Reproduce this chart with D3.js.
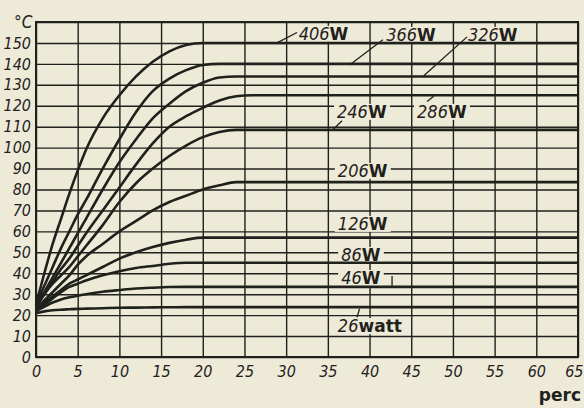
<!DOCTYPE html>
<html>
<head>
<meta charset="utf-8">
<script src="https://cdn.jsdelivr.net/npm/d3@7"></script>
<style>
  body { margin: 0; background: #eeead8; }
  svg { display: block; }
</style>
</head>
<body>
<div id="chart"></div>
<script>
// time in minutes (perc)
const times = [0, 1, 2, 3, 4, 5, 6, 8, 10, 12, 14, 16, 18, 20, 22, 24, 26, 65]

// temperature (°C) for each heating power
const temp406 = [25, 40, 54, 66, 78, 89, 99, 114, 125, 134, 141, 146, 149, 150, 150, 150, 150, 150]
const temp366 = [25, 34, 43, 52, 60, 68, 75, 90, 104, 117, 127, 133, 137, 139.5, 140, 140, 140, 140]
const temp326 = [24, 31, 38, 45, 52, 59, 66, 80, 93, 104, 114, 121, 127, 131, 133.5, 134, 134, 134]
const temp286 = [24, 30, 36, 42, 47, 53, 59, 70, 81, 92, 102, 110, 115, 119, 122.5, 124.5, 125, 125]
const temp246 = [24, 30, 35, 39, 43, 48, 53, 63, 74, 83, 90, 96, 101, 105, 107.5, 108.5, 108.5, 108.5]
const temp206 = [23, 27, 31, 35, 39, 44, 48, 54, 60, 65, 70, 74, 77, 80, 82, 83.5, 83.5, 83.5]
const temp126 = [23, 26, 29, 32, 35, 37, 39, 43, 47, 50, 52.5, 54.5, 56, 57, 57, 57, 57, 57]
const temp86 = [22, 25, 28, 31, 33.5, 35, 36.5, 39, 41, 42.5, 43.5, 44.5, 45, 45, 45, 45, 45, 45]
const temp46 = [22, 24, 26, 27.5, 28.5, 29.3, 30, 31.2, 32, 32.7, 33.1, 33.4, 33.5, 33.5, 33.5, 33.5, 33.5, 33.5]
const temp26 = [21, 21.8, 22.3, 22.6, 22.8, 23, 23.1, 23.3, 23.5, 23.6, 23.7, 23.75, 23.8, 23.8, 23.8, 23.8, 23.8, 23.8]

const seriesValues = [temp406, temp366, temp326, temp286, temp246, temp206, temp126, temp86, temp46, temp26]

// label texts: number part + unit part
const labelNumbers = ['406', '366', '326', '246', '286', '206', '126', '86', '46', '26']
const labelUnits = ['W', 'W', 'W', 'W', 'W', 'W', 'W', 'W', 'W', 'watt']

const xTicks = d3.range(0, 66, 5)
const yTicks = d3.range(0, 161, 10)

const ink = '#1f211c'
const paper = '#eeead8'

const margin = { top: 22, right: 6, bottom: 51, left: 36 }
const width = 584 - margin.left - margin.right
const height = 408 - margin.top - margin.bottom

const xScale = d3.scaleLinear().domain([0, 65]).range([0, width])
const yScale = d3.scaleLinear().domain([0, 160]).range([height, 0])

const svgRoot = d3.select('#chart')
  .append('svg')
  .attr('width', 584)
  .attr('height', 408)

svgRoot.append('rect')
  .attr('width', 584)
  .attr('height', 408)
  .attr('fill', paper)

const svg = svgRoot.append('g')
  .attr('transform', `translate(${margin.left}, ${margin.top})`)

const tickFont = 'DejaVu Sans Condensed, DejaVu Sans, sans-serif'

// Grid + axes.
const yAxis = svg.append('g')
  .call(d3.axisLeft(yScale)
    .tickValues(yTicks)
    .tickSize(-width)
    .tickPadding(5)
    .tickFormat(d => (d === 160 ? '' : d)))
yAxis.select('.domain').remove()
yAxis.selectAll('line').attr('stroke', ink).attr('stroke-width', 1.4)
yAxis.selectAll('text')
  .attr('fill', ink)
  .style('font-family', tickFont)
  .style('font-style', 'italic')
  .style('font-size', '16px')

const xAxis = svg.append('g')
  .attr('transform', `translate(0, ${height})`)
  .call(d3.axisBottom(xScale)
    .tickValues(xTicks)
    .tickSize(-height)
    .tickPadding(9))
xAxis.select('.domain').remove()
xAxis.selectAll('line').attr('stroke', ink).attr('stroke-width', 1.4)
xAxis.selectAll('text')
  .attr('fill', ink)
  .style('font-family', tickFont)
  .style('font-style', 'italic')
  .style('font-size', '16px')
// last tick sits on the page edge, keep it inside
xAxis.selectAll('text')
  .filter(d => d === 65)
  .attr('text-anchor', 'end')
  .attr('x', 5)

// Frame.
svg.append('rect')
  .attr('width', width)
  .attr('height', height)
  .attr('fill', 'none')
  .attr('stroke', ink)
  .attr('stroke-width', 2)

// Axis titles.
svgRoot.append('text')
  .attr('x', 14)
  .attr('y', 28)
  .attr('fill', ink)
  .style('font-family', tickFont)
  .style('font-style', 'italic')
  .style('font-size', '17px')
  .text('°C')

svgRoot.append('text')
  .attr('x', 581)
  .attr('y', 401)
  .attr('text-anchor', 'end')
  .attr('fill', ink)
  .style('font-family', 'DejaVu Sans, sans-serif')
  .style('font-weight', 'bold')
  .style('font-size', '17px')
  .text('perc')

// Label anchors (time, temperature) and leader lines in data units.
const labelAnchors = [
  [31.5, 151.5], [42, 151], [51.8, 151], [36.1, 114.2], [45.7, 114.2],
  [36.2, 86], [36.2, 60.7], [36.6, 45.9], [36.6, 34.9], [36.2, 11.9]
]
const leaders = [
  [[28.9, 150], [31.3, 155]],
  [[37.6, 139.5], [41.6, 151.5]],
  [[46.5, 134.3], [51.7, 152.9]],
  [[35.6, 108.5], [36.7, 112.8]],
  [[46.9, 122], [47.7, 124.5]],
  [[42.7, 38.7], [42.7, 33.5]],
  [[38.5, 19], [38.8, 23]]
]

// Label backgrounds blank the grid (drawn under curves).
const bgLayer = svg.append('g')
const curveLayer = svg.append('g')
const labelLayer = svg.append('g')

const labels = labelLayer.selectAll('text')
  .data(labelNumbers)
  .enter()
  .append('text')
  .attr('x', (d, i) => xScale(labelAnchors[i][0]))
  .attr('y', (d, i) => yScale(labelAnchors[i][1]))
  .attr('fill', ink)

labels.append('tspan')
  .style('font-family', tickFont)
  .style('font-style', 'italic')
  .style('font-size', '18px')
  .text(d => d)

labels.append('tspan')
  .style('font-family', 'DejaVu Sans, sans-serif')
  .style('font-weight', 'bold')
  .style('font-size', '17px')
  .text((d, i) => labelUnits[i])

labels.each(function () {
  const b = this.getBBox()
  bgLayer.append('rect')
    .attr('x', b.x - 3)
    .attr('y', b.y + 3)
    .attr('width', b.width + 6)
    .attr('height', b.height - 5)
    .attr('fill', paper)
})

// Curves.
const line = d3.line()
  .x((d, i) => xScale(times[i]))
  .y(d => yScale(d))
  .curve(d3.curveMonotoneX)

curveLayer.selectAll('.curve')
  .data(seriesValues)
  .enter()
  .append('path')
  .attr('class', 'curve')
  .attr('d', line)
  .attr('fill', 'none')
  .attr('stroke', ink)
  .attr('stroke-width', 2.6)

labelLayer.selectAll('.leader')
  .data(leaders)
  .enter()
  .append('line')
  .attr('class', 'leader')
  .attr('x1', d => xScale(d[0][0]))
  .attr('y1', d => yScale(d[0][1]))
  .attr('x2', d => xScale(d[1][0]))
  .attr('y2', d => yScale(d[1][1]))
  .attr('stroke', ink)
  .attr('stroke-width', 1.3)
</script>
</body>
</html>
